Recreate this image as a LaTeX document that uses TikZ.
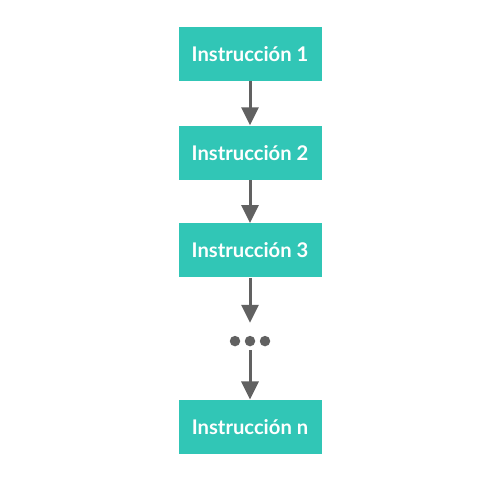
\documentclass[tikz,border=0pt]{standalone}
\usepackage{fontspec}
\setmainfont{Lato}
\usetikzlibrary{arrows.meta,positioning}
\definecolor{instrteal}{HTML}{31C6B6}
\definecolor{flowgray}{HTML}{616161}
\tikzset{
  instr/.style={fill=instrteal, text=white, minimum width=2.86cm, minimum height=1.08cm,
                inner sep=0pt, font=\fontsize{11.5}{14}\selectfont\bfseries},
  flow/.style={draw=flowgray, line width=0.06cm, -{Triangle[width=0.34cm,length=0.36cm]}}
}
\begin{document}
\begin{tikzpicture}[node distance=0.88cm]
  \useasboundingbox (0,0) rectangle (10,10);
  \node[instr] (i1) at (5,8.92) {Instrucción 1};
  \node[instr, below=of i1] (i2) {Instrucción 2};
  \node[instr, below=0.86cm of i2] (i3) {Instrucción 3};
  \node[minimum width=0.8cm, minimum height=0.2cm, inner sep=0pt, below=1.16cm of i3] (dots) {};
  \node[instr, below=1.06cm of dots] (in) {Instrucción n};
  % dots
  \foreach \dx in {-0.3,0,0.3}
    \fill[flowgray] ([xshift=\dx cm]dots.center) circle (0.105);
  % arrows
  \draw[flow] (i1) -- (i2);
  \draw[flow] (i2) -- (i3);
  \draw[flow, shorten >=0.26cm] (i3) -- (dots);
  \draw[flow, shorten <=0.08cm] (dots) -- (in);
\end{tikzpicture}
\end{document}
